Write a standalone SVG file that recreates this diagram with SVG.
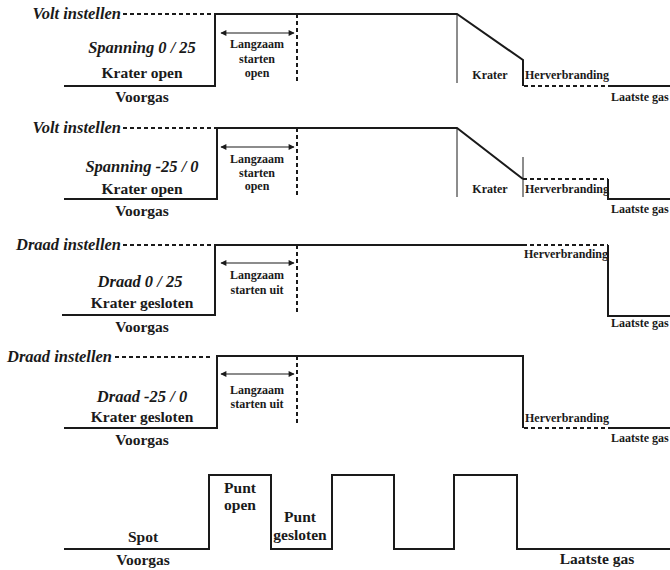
<svg xmlns="http://www.w3.org/2000/svg" width="670" height="570" viewBox="0 0 670 570">
<style>
text{font-family:"Liberation Serif","Times New Roman",serif;font-weight:bold;fill:#1a1a1a}
.big{font-size:15.5px}
.it{font-size:16.5px;font-style:italic}
.sm{font-size:12px}
.c{text-anchor:middle}
.e{text-anchor:end}
.sig{fill:none;stroke:#1a1a1a;stroke-width:2}
.dash{fill:none;stroke:#1a1a1a;stroke-width:2;stroke-dasharray:4,3}
.thin{fill:none;stroke:#1a1a1a;stroke-width:1}
.arr{fill:none;stroke:#1a1a1a;stroke-width:1.2;marker-start:url(#ah);marker-end:url(#ah)}
</style>
<defs>
<marker id="ah" viewBox="0 0 10 10" refX="9" refY="5" markerWidth="7" markerHeight="6" orient="auto-start-reverse" markerUnits="userSpaceOnUse">
<path d="M0,0 L10,5 L0,10 Z" fill="#1a1a1a"/>
</marker>
</defs>
<rect width="670" height="570" fill="#fff"/>

<g id="panel1">
<text class="it e" x="121" y="19">Volt instellen</text>
<path class="dash" d="M123,14 H215"/>
<path class="sig" d="M64,86 H215 V14 H457 L523,60 V86"/>
<path class="dash" d="M524,86 H608"/>
<path class="sig" d="M608,86 H670"/>
<path class="thin" d="M457,14 V83"/>
<path class="dash" d="M297,14 V84"/>
<path class="arr" d="M221,33 H294"/>
<text class="it c" x="142" y="53">Spanning 0 / 25</text>
<text class="big c" x="142" y="78">Krater open</text>
<text class="big c" x="142" y="102">Voorgas</text>
<text class="sm c" x="257" y="48">Langzaam</text>
<text class="sm c" x="257" y="63">starten</text>
<text class="sm c" x="257" y="77">open</text>
<text class="sm c" x="490" y="79">Krater</text>
<text class="sm" x="525" y="79">Herverbranding</text>
<text class="sm" x="611" y="101">Laatste gas</text>
</g>

<g id="panel2">
<text class="it e" x="121" y="133">Volt instellen</text>
<path class="dash" d="M123,128 H217"/>
<path class="sig" d="M64,199 H217 V128 H457 L523,179"/>
<path class="dash" d="M523,179 H608"/>
<path class="sig" d="M608,179 V199 H670"/>
<path class="thin" d="M457,128 V197 M523,157 V197"/>
<path class="dash" d="M297,128 V197"/>
<path class="arr" d="M221,147 H294"/>
<text class="it c" x="142" y="172">Spanning -25 / 0</text>
<text class="big c" x="142" y="194">Krater open</text>
<text class="big c" x="142" y="216">Voorgas</text>
<text class="sm c" x="257" y="163">Langzaam</text>
<text class="sm c" x="257" y="177">starten</text>
<text class="sm c" x="257" y="190">open</text>
<text class="sm c" x="490" y="193">Krater</text>
<text class="sm" x="525" y="193">Herverbranding</text>
<text class="sm" x="611" y="213">Laatste gas</text>
</g>

<g id="panel3">
<text class="it e" x="121" y="250">Draad instellen</text>
<path class="dash" d="M123,245 H215"/>
<path class="sig" d="M62,315 H215 V245 H523"/>
<path class="dash" d="M523,245 H608"/>
<path class="sig" d="M608,245 V316 H670"/>
<path class="dash" d="M297,245 V315"/>
<path class="arr" d="M221,263 H294"/>
<text class="it c" x="140" y="287">Draad 0 / 25</text>
<text class="big c" x="142" y="308">Krater gesloten</text>
<text class="big c" x="142" y="332">Voorgas</text>
<text class="sm c" x="257" y="279">Langzaam</text>
<text class="sm c" x="257" y="294">starten uit</text>
<text class="sm" x="524" y="258">Herverbranding</text>
<text class="sm" x="611" y="327">Laatste gas</text>
</g>

<g id="panel4">
<text class="it e" x="112" y="362">Draad instellen</text>
<path class="dash" d="M115,357 H212"/>
<path class="sig" d="M64,428 H217 V356 H523 V428"/>
<path class="dash" d="M524,428 H608"/>
<path class="sig" d="M608,428 H670"/>
<path class="dash" d="M297,356 V425"/>
<path class="arr" d="M221,374 H294"/>
<text class="it c" x="142" y="402">Draad -25 / 0</text>
<text class="big c" x="142" y="422">Krater gesloten</text>
<text class="big c" x="142" y="445">Voorgas</text>
<text class="sm c" x="257" y="394">Langzaam</text>
<text class="sm c" x="257" y="408">starten uit</text>
<text class="sm" x="525" y="422">Herverbranding</text>
<text class="sm" x="611" y="442">Laatste gas</text>
</g>

<g id="panel5">
<path class="sig" d="M64,549 H209 V475 H271 V549 H332 V475 H394 V549 H454 V475 H517 V549 H670"/>
<text class="big c" x="143" y="542">Spot</text>
<text class="big c" x="143" y="565">Voorgas</text>
<text class="big c" x="240" y="493">Punt</text>
<text class="big c" x="240" y="510">open</text>
<text class="big c" x="300" y="522">Punt</text>
<text class="big c" x="300" y="540">gesloten</text>
<text class="big c" x="597" y="564">Laatste gas</text>
</g>
</svg>
